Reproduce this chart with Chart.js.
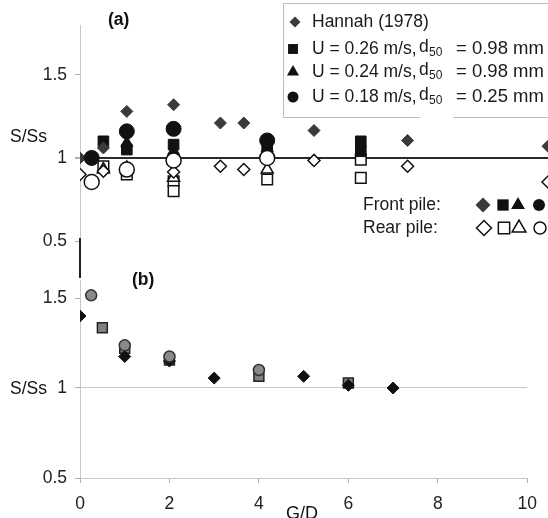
<!DOCTYPE html>
<html>
<head>
<meta charset="utf-8">
<script src="https://cdn.jsdelivr.net/npm/chart.js@4.4.1/dist/chart.umd.min.js"></script>
<style>
  html, body { margin: 0; padding: 0; background: #fff; }
  #wrap { position: relative; width: 548px; height: 518px; overflow: hidden; }
  #topBox { position: absolute; left: 0; top: 0; }
  #bottomBox { position: absolute; left: 0; top: 260px; }
</style>
</head>
<body>
<div id="wrap">
  <div id="topBox"><canvas id="panelA" width="548" height="260"></canvas></div>
  <div id="bottomBox"><canvas id="panelB" width="548" height="258"></canvas></div>
</div>
<script>
// ---- panel (a): scour ratio S/Ss against G/D, front and rear pile ----
const hannahGD = [0, 0.5, 1, 2, 3, 3.5, 5, 7, 10];
const hannahFront = [1.0, 1.06, 1.28, 1.32, 1.21, 1.21, 1.165, 1.105, 1.07];
const hannahRear = [0.9, 0.92, 0.93, 0.915, 0.95, 0.93, 0.985, 0.95, 0.855];

const u26FrontGD = [0.5, 1, 2, 4, 6, 6];
const u26Front = [1.1, 1.05, 1.08, 1.05, 1.1, 1.04];
const u26RearGD = [0.5, 1, 2, 2, 4, 6, 6];
const u26Rear = [0.95, 0.9, 0.86, 0.8, 0.87, 0.99, 0.88];

const u24FrontGD = [1, 2, 4];
const u24Front = [1.09, 1.04, 1.06];
const u24RearGD = [0.5, 1, 2, 4];
const u24Rear = [0.93, 0.94, 0.88, 0.93];

const u18FrontGD = [0.25, 1, 2, 4];
const u18Front = [1.0, 1.16, 1.175, 1.105];
const u18RearGD = [0.25, 1, 2, 4];
const u18Rear = [0.855, 0.93, 0.985, 1.0];

// ---- panel (b) ----
const bDiamondGD = [0, 1, 2, 3, 5, 6, 7];
const bDiamond = [1.4, 1.175, 1.15, 1.055, 1.065, 1.015, 1.0];
const bSquareGD = [0.5, 1, 2, 4, 6];
const bSquare = [1.335, 1.22, 1.155, 1.065, 1.028];
const bCircleGD = [0.25, 1, 2, 4];
const bCircle = [1.515, 1.237, 1.175, 1.1];

// tick labels
const yTicks = [0.5, 1, 1.5];
const xTicks = [0, 2, 4, 6, 8, 10];

// legend texts
const hannahLabel = 'Hannah (1978)';
const runLabels = ['U = 0.26 m/s,', 'U = 0.24 m/s,', 'U = 0.18 m/s,'];
const d50Labels = ['= 0.98 mm', '= 0.98 mm', '= 0.25 mm'];

const fontFam = '"Liberation Sans", Arial, sans-serif';
Chart.defaults.font.family = fontFam;
Chart.defaults.font.size = 17.5;
Chart.defaults.color = '#222';

const dark = '#111';
const hannahColor = '#3a3a3a';

function pts(xs, ys) {
  return xs.map((x, i) => ({ x: x, y: ys[i] }));
}

function series(data, style, r, fill, border, bw) {
  return {
    data: data,
    pointStyle: style,
    pointRadius: r,
    pointHoverRadius: r,
    backgroundColor: fill,
    borderColor: border,
    borderWidth: bw,
    showLine: false
  };
}

function mark(ctx, style, r, x, y, fill, bw) {
  ctx.save();
  ctx.fillStyle = fill;
  ctx.strokeStyle = dark;
  ctx.lineWidth = bw;
  Chart.helpers.drawPoint(ctx, { pointStyle: style, radius: r, borderWidth: bw, rotation: 0 }, x, y);
  ctx.restore();
}

const yAxisWidth = s => { s.width = 80; };
const fixTicks = list => s => { s.ticks = list.map(v => ({ value: v })); };

// ---- extra drawing for panel (a): legend, labels ----
const panelAExtras = {
  id: 'panelAExtras',
  afterDraw(chart) {
    const ctx = chart.ctx;
    ctx.save();
    // legend box
    ctx.fillStyle = '#fff';
    ctx.fillRect(283, 3, 270, 114);
    ctx.strokeStyle = '#bdbdbd';
    ctx.lineWidth = 1;
    ctx.beginPath();
    ctx.moveTo(283.5, 117.5); ctx.lineTo(283.5, 3.5); ctx.lineTo(548, 3.5);
    ctx.moveTo(283.5, 117.5); ctx.lineTo(420, 117.5);
    ctx.moveTo(453, 117.5); ctx.lineTo(548, 117.5);
    ctx.stroke();

    ctx.fillStyle = '#1a1a1a';
    ctx.textBaseline = 'middle';
    ctx.textAlign = 'left';
    ctx.font = '17.5px ' + fontFam;
    mark(ctx, 'rectRot', 5.5, 295, 22, hannahColor, 0);
    ctx.fillText(hannahLabel, 312, 22);

    const rowY = [49, 72, 97];
    const rowStyle = ['rect', 'triangle', 'circle'];
    const rowR = [7, 7, 5.5];
    rowY.forEach((y, i) => {
      mark(ctx, rowStyle[i], rowR[i], 293, y, dark, 0);
      ctx.fillStyle = '#1a1a1a';
      ctx.font = '17.5px ' + fontFam;
      ctx.fillText(runLabels[i], 312, y);
      ctx.fillText('d', 419, y - 2);
      ctx.font = '12px ' + fontFam;
      ctx.fillText('50', 429, y + 4);
      ctx.font = '18.5px ' + fontFam;
      ctx.fillText(d50Labels[i], 456, y);
    });

    // front / rear key
    ctx.font = '17.5px ' + fontFam;
    ctx.fillText('Front pile:', 363, 205);
    ctx.fillText('Rear pile:', 363, 228);
    const keyX = [483, 503, 518, 539];
    const keyStyle = ['rectRot', 'rect', 'triangle', 'circle'];
    const keyR = [7.5, 8, 8, 6];
    keyX.forEach((x, i) => {
      mark(ctx, keyStyle[i], keyR[i], x, 205, i === 0 ? hannahColor : dark, 0);
      mark(ctx, keyStyle[i], keyR[i], x + 1, 228, '#fff', 1.5);
    });

    // panel letter and axis label
    ctx.fillStyle = '#111';
    ctx.font = 'bold 17.5px ' + fontFam;
    ctx.fillText('(a)', 108, 20);
    ctx.font = '17.5px ' + fontFam;
    ctx.fillText('S/Ss', 10, 137);

    // dark stub below the axis
    ctx.strokeStyle = '#222';
    ctx.lineWidth = 2;
    ctx.beginPath();
    ctx.moveTo(80, 238); ctx.lineTo(80, 260);
    ctx.stroke();
    ctx.restore();
  }
};

new Chart(document.getElementById('panelA'), {
  type: 'scatter',
  data: {
    datasets: [
      series(pts(u18FrontGD, u18Front), 'circle', 7.5, dark, dark, 1),
      series(pts(u18RearGD, u18Rear), 'circle', 7.5, '#fff', dark, 1.5),
      series(pts(hannahGD, hannahFront), 'rectRot', 6, hannahColor, hannahColor, 1),
      series(pts(hannahGD, hannahRear), 'rectRot', 6, '#fff', dark, 1.5),
      series(pts(u24FrontGD, u24Front), 'triangle', 7, dark, dark, 1),
      series(pts(u24RearGD, u24Rear), 'triangle', 7, '#fff', dark, 1.5),
      series(pts(u26FrontGD, u26Front), 'rect', 7.5, dark, dark, 1),
      series(pts(u26RearGD, u26Rear), 'rect', 7.5, '#fff', dark, 1.5)
    ]
  },
  options: {
    responsive: false,
    animation: false,
    events: [],
    layout: { autoPadding: false, padding: { top: 25, bottom: 19, left: 0, right: 0 } },
    plugins: { legend: { display: false }, tooltip: { enabled: false } },
    scales: {
      x: { type: 'linear', display: false, min: 0, max: 10 },
      y: {
        min: 0.5,
        max: 1.8,
        afterFit: yAxisWidth,
        afterBuildTicks: fixTicks(yTicks),
        border: { color: '#c8c8c8', width: 1 },
        grid: {
          color: c => (c.tick && c.tick.value === 1 ? '#2a2a2a' : 'rgba(0,0,0,0)'),
          lineWidth: c => (c.tick && c.tick.value === 1 ? 2 : 1),
          tickColor: '#b0b0b0',
          tickLength: 5
        },
        ticks: { padding: 8, callback: v => String(v) }
      }
    }
  },
  plugins: [panelAExtras]
});

// ---- extra drawing for panel (b) ----
const panelBExtras = {
  id: 'panelBExtras',
  afterDraw(chart) {
    const ctx = chart.ctx;
    ctx.save();
    ctx.fillStyle = '#111';
    ctx.textBaseline = 'middle';
    ctx.font = 'bold 17.5px ' + fontFam;
    ctx.fillText('(b)', 132, 20);
    ctx.font = '17.5px ' + fontFam;
    ctx.fillText('S/Ss', 10, 129);
    ctx.textAlign = 'center';
    ctx.textBaseline = 'alphabetic';
    ctx.font = '18px ' + fontFam;
    ctx.fillText('G/D', 302, 259);
    ctx.strokeStyle = '#222';
    ctx.lineWidth = 2;
    ctx.beginPath();
    ctx.moveTo(80, 0); ctx.lineTo(80, 18);
    ctx.stroke();
    ctx.restore();
  }
};

new Chart(document.getElementById('panelB'), {
  type: 'scatter',
  data: {
    datasets: [
      series(pts(bCircleGD, bCircle), 'circle', 5.5, '#8a8a8a', '#333', 1.5),
      series(pts(bDiamondGD, bDiamond), 'rectRot', 6, dark, dark, 1),
      series(pts(bSquareGD, bSquare), 'rect', 7, '#7f7f7f', '#222', 1.5)
    ]
  },
  options: {
    responsive: false,
    animation: false,
    events: [],
    layout: { autoPadding: false, padding: { top: 20, bottom: 0, left: 0, right: 18 } },
    plugins: { legend: { display: false }, tooltip: { enabled: false } },
    scales: {
      x: {
        type: 'linear',
        min: 0,
        max: 10,
        afterFit: s => { s.height = 40; },
        afterBuildTicks: fixTicks(xTicks),
        border: { color: '#c8c8c8', width: 1 },
        grid: { color: 'rgba(0,0,0,0)', tickColor: '#b0b0b0', tickLength: 5 },
        ticks: { padding: 11, maxRotation: 0 }
      },
      y: {
        min: 0.5,
        max: 1.6,
        afterFit: yAxisWidth,
        afterBuildTicks: fixTicks(yTicks),
        border: { color: '#c8c8c8', width: 1 },
        grid: {
          color: c => (c.tick && c.tick.value === 1 ? '#c8c8c8' : 'rgba(0,0,0,0)'),
          tickColor: '#b0b0b0',
          tickLength: 5
        },
        ticks: { padding: 8, callback: v => String(v) }
      }
    }
  },
  plugins: [panelBExtras]
});
</script>
</body>
</html>
